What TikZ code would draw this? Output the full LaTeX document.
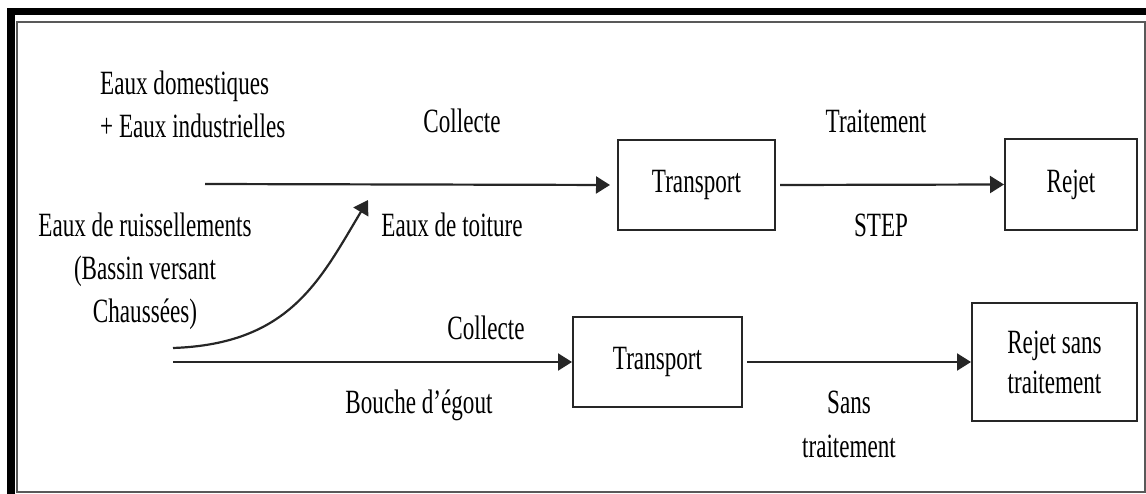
\documentclass[tikz,border=0pt]{standalone}
\usepackage{fontspec}
\setmainfont{Liberation Serif}[FakeStretch=0.68]
\usetikzlibrary{arrows.meta}
\begin{document}
\begin{tikzpicture}[x=1pt,y=-1pt,
  txt/.style={inner sep=0pt,font=\fontsize{34}{43}\selectfont,text=black},
  boxnode/.style={draw=black!85,line width=2pt,font=\fontsize{34}{40}\selectfont,align=center,inner sep=0pt},
  flow/.style={draw=black!85,line width=2.2pt,-{Triangle[length=14pt,width=17pt]}}]
\useasboundingbox (0,0) rectangle (1146,494);
% frame
\fill[black] (7,8) rectangle (1146,15);
\fill[black] (7,8) rectangle (15,494);
\draw[black!65,line width=2.5pt] (17,22) rectangle (1145,492);
% boxes
\node[boxnode,minimum width=157pt,minimum height=90pt] (t1) at (696.5,185) {Transport};
\node[boxnode,minimum width=132pt,minimum height=91pt] (r1) at (1071,184.5) {Rejet};
\node[boxnode,minimum width=169pt,minimum height=90pt] (t2) at (657.5,362) {Transport};
\node[boxnode,minimum width=165pt,minimum height=118pt] (r2) at (1054.5,362) {Rejet sans\\traitement};
% texts
\node[txt,align=left,anchor=base west] (dom) at (100,138) {Eaux domestiques\\+ Eaux industrielles};
\node[txt,anchor=base] (col1) at (462,133) {Collecte};
\node[txt,anchor=base] (trt) at (876,133) {Traitement};
\node[txt,anchor=base] (step) at (881,237) {STEP};
\node[txt,align=center,anchor=base] (ruis) at (145,323) {Eaux de ruissellements\\(Bassin versant\\Chaussées)};
\node[txt,anchor=base] (toit) at (452,237) {Eaux de toiture};
\node[txt,anchor=base] (col2) at (486,340) {Collecte};
\node[txt,anchor=base] (bouche) at (419,413) {Bouche d'égout};
\node[txt,align=center,anchor=base,font=\fontsize{34}{44}\selectfont] (sans) at (849,457) {Sans\\traitement};
% connectors
\coordinate (s1) at (205,184);
\coordinate (s2) at (173,362);
\coordinate (c0) at (173,348);
\coordinate (c1) at (368,200);
\draw[flow,shorten >=7pt] (s1) -- (t1.west);
\draw[flow] (t1.east) ++(4,0) -- (r1.west);
\draw[flow] (s2) -- (t2.west);
\draw[flow] (t2.east) ++(4,0) -- (r2.west);
\draw[flow] (c0) .. controls (290,344) and (320,280) .. (c1);
\end{tikzpicture}
\end{document}
